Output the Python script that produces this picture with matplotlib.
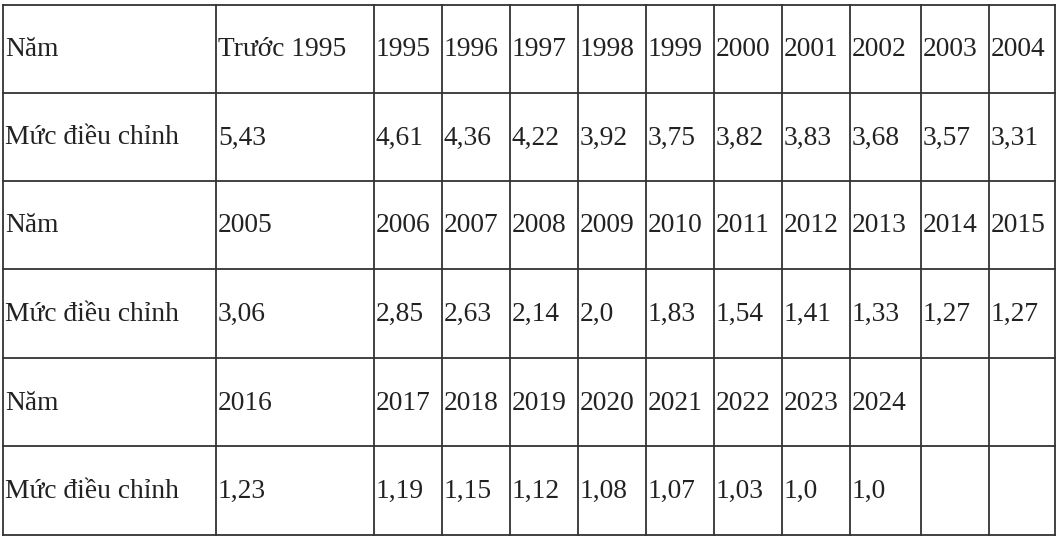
import matplotlib

matplotlib.use("Agg")
import matplotlib.pyplot as plt

# table content
years_1 = ["Trước 1995", "1995", "1996", "1997", "1998", "1999", "2000", "2001", "2002", "2003", "2004"]
values_1 = ["5,43", "4,61", "4,36", "4,22", "3,92", "3,75", "3,82", "3,83", "3,68", "3,57", "3,31"]
years_2 = ["2005", "2006", "2007", "2008", "2009", "2010", "2011", "2012", "2013", "2014", "2015"]
values_2 = ["3,06", "2,85", "2,63", "2,14", "2,0", "1,83", "1,54", "1,41", "1,33", "1,27", "1,27"]
years_3 = ["2016", "2017", "2018", "2019", "2020", "2021", "2022", "2023", "2024", "", ""]
values_3 = ["1,23", "1,19", "1,15", "1,12", "1,08", "1,07", "1,03", "1,0", "1,0", "", ""]

row_head_year = "Năm"
row_head_value = "Mức điều chỉnh"

rows = [
    [row_head_year] + years_1,
    [row_head_value] + values_1,
    [row_head_year] + years_2,
    [row_head_value] + values_2,
    [row_head_year] + years_3,
    [row_head_value] + values_3,
]

# layout in pixels
col_edges = [3, 216, 374, 442, 510, 578, 646, 714, 782, 850, 921, 989, 1055]
row_edges = [5, 93, 181, 269, 358, 446, 535]

fig = plt.figure(figsize=(10.63, 5.38), dpi=100)
ax = fig.add_axes([0, 0, 1, 1])
ax.set_xlim(0, 1063)
ax.set_ylim(538, 0)
ax.axis("off")

line_kw = dict(color="#333333", lw=1.3, solid_capstyle="projecting")
for x in col_edges:
    ax.plot([x, x], [row_edges[0], row_edges[-1]], **line_kw)
for y in row_edges:
    ax.plot([col_edges[0], col_edges[-1]], [y, y], **line_kw)

for r, cells in enumerate(rows):
    yc = (row_edges[r] + row_edges[r + 1]) / 2 + 1
    for c, txt in enumerate(cells):
        if not txt:
            continue
        ax.text(col_edges[c] + 2, yc, txt, ha="left", va="center",
                fontsize=19.8, family="Liberation Serif", color="#222222")

fig.savefig("out.png", dpi=100)
